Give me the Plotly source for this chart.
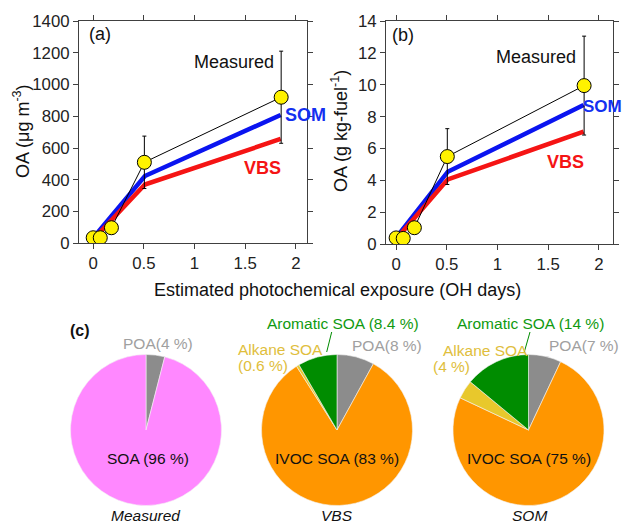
import plotly.graph_objects as go

W, H = 625, 525

# ---------------- data ----------------
meas_x = [0.0, 0.07, 0.18, 0.505, 1.855]
meas_a = [35, 35, 98, 510, 920]
meas_a_err = [0, 0, 0, 165, 290]
meas_b = [0.4, 0.37, 1.04, 5.5, 9.95]
meas_b_err = [0, 0, 0, 1.75, 3.1]

model_x = [0.01, 0.51, 1.85]
som_a = [42, 424, 808]
vbs_a = [30, 370, 657]
som_b = [0.5, 4.55, 8.73]
vbs_b = [0.4, 4.07, 7.06]

pie_meas_labels = ["POA", "SOA"]
pie_meas_vals = [4, 96]
pie_model_labels = ["POA", "IVOC SOA", "Alkane SOA", "Aromatic SOA"]
pie_vbs_vals = [8, 83, 0.6, 8.4]
pie_som_vals = [7, 75, 4, 14]

x_ticks = [0, 0.5, 1, 1.5, 2]
x_ticktext = ["0", "0.5", "1", "1.5", "2"]

# colours
C_POA = "#8C8C8C"
C_SOA = "#FF88FF"
C_IVOC = "#FF9600"
C_ALK = "#E8C82C"
C_ARO = "#008C00"
C_POA_TXT = "#A0A0A0"
C_ALK_TXT = "#E0BE3C"
C_ARO_TXT = "#109A10"

FONT = "Liberation Sans, Arial, sans-serif"


def px(x):
    return x / W


def py(y):
    return 1 - y / H


fig = go.Figure()

for xa, ya, meas, err, som, vbs in [
    ("x", "y", meas_a, meas_a_err, som_a, vbs_a),
    ("x2", "y2", meas_b, meas_b_err, som_b, vbs_b),
]:
    fig.add_trace(go.Scatter(
        x=model_x, y=som, mode="lines", xaxis=xa, yaxis=ya,
        line=dict(color="#0A14F0", width=4.5), showlegend=False, hoverinfo="skip"))
    fig.add_trace(go.Scatter(
        x=model_x, y=vbs, mode="lines", xaxis=xa, yaxis=ya,
        line=dict(color="#F51414", width=4.5), showlegend=False, hoverinfo="skip"))
    fig.add_trace(go.Scatter(
        x=meas_x, y=meas, mode="lines+markers", xaxis=xa, yaxis=ya,
        line=dict(color="black", width=1),
        marker=dict(size=14, color="#FFF200", line=dict(color="black", width=1)),
        error_y=dict(type="data", array=err, visible=True, color="black",
                     thickness=1, width=2),
        showlegend=False, hoverinfo="skip"))

axis_common = dict(
    showgrid=False, zeroline=False, showline=True, linecolor="#404040",
    linewidth=1, mirror="ticks", ticks="outside", ticklen=5, tickcolor="#404040",
    tickfont=dict(family=FONT, size=16.8, color="#222"), automargin=False,
)

fig.update_layout(
    xaxis=dict(domain=[px(79), px(307)], range=[-0.14, 2.11], anchor="y",
               tickvals=x_ticks, ticktext=x_ticktext, **axis_common),
    yaxis=dict(domain=[py(243.3), py(21)], range=[0, 1400], anchor="x",
               dtick=200, **axis_common),
    xaxis2=dict(domain=[px(386), px(613)], range=[-0.1, 2.14], anchor="y2",
                tickvals=x_ticks, ticktext=x_ticktext, **axis_common),
    yaxis2=dict(domain=[py(244.3), py(21)], range=[0, 14], anchor="x2",
                dtick=2, **axis_common),
)

# ---------------- pies ----------------
R = 75.5


def pie_domain(cx, cy):
    return dict(x=[px(cx - R), px(cx + R)], y=[py(cy + R), py(cy - R)])


pie_common = dict(sort=False, direction="clockwise", rotation=0,
                  textinfo="none", showlegend=False, hoverinfo="skip")
fig.add_trace(go.Pie(labels=pie_meas_labels, values=pie_meas_vals,
                     marker=dict(colors=[C_POA, C_SOA], line=dict(color="#F4F4F4", width=0.6)),
                     domain=pie_domain(146, 430), **pie_common))
fig.add_trace(go.Pie(labels=pie_model_labels, values=pie_vbs_vals,
                     marker=dict(colors=[C_POA, C_IVOC, C_ALK, C_ARO], line=dict(color="#F4F4F4", width=0.6)),
                     domain=pie_domain(337, 430), **pie_common))
fig.add_trace(go.Pie(labels=pie_model_labels, values=pie_som_vals,
                     marker=dict(colors=[C_POA, C_IVOC, C_ALK, C_ARO], line=dict(color="#F4F4F4", width=0.6)),
                     domain=pie_domain(528.5, 430), **pie_common))

# ---------------- text ----------------
ann = []


def T(text, x, y, size=18, color="#111", xanchor="center", bold=False, italic=False, angle=0):
    if bold:
        text = "<b>" + text + "</b>"
    if italic:
        text = "<i>" + text + "</i>"
    ann.append(dict(text=text, x=px(x), y=py(y), xref="paper", yref="paper",
                    xanchor=xanchor, yanchor="middle", showarrow=False,
                    textangle=angle,
                    font=dict(family=FONT, size=size, color=color)))


T("(a)", 87, 34, xanchor="left")
T("(b)", 390, 35, xanchor="left")
T("Measured", 276, 62, xanchor="right")
T("SOM", 283, 115, color="#1430F0", xanchor="left", bold=True)
T("VBS", 242, 168, color="#F51414", xanchor="left", bold=True)
T("Measured", 578, 57, xanchor="right")
T("SOM", 624, 107, size=17, color="#1430F0", xanchor="right", bold=True)
T("VBS", 545, 162, color="#F51414", xanchor="left", bold=True)
T("OA (μg m<sup>-3</sup>)", 22, 131, size=18, angle=-90)
T("OA (g kg-fuel<sup>-1</sup>)", 340, 131, size=18, angle=-90)
T("Estimated photochemical exposure (OH days)", 338, 290, size=18)

T("(c)", 68, 330, size=16, xanchor="left", bold=True)
T("POA(4 %)", 121, 343, size=15.5, color=C_POA_TXT, xanchor="left")
T("SOA (96 %)", 148, 458, size=15.5)
T("Measured", 146, 515, size=15.5, italic=True)

T("Aromatic SOA (8.4 %)", 343, 323, size=15.5, color=C_ARO_TXT)
T("Alkane SOA", 236, 349, size=15.5, color=C_ALK_TXT, xanchor="left")
T("(0.6 %)", 236, 365, size=15.5, color=C_ALK_TXT, xanchor="left")
T("POA(8 %)", 350, 346, size=15.5, color=C_POA_TXT, xanchor="left")
T("IVOC SOA (83 %)", 337, 458, size=15.5)
T("VBS", 337, 515, size=15.5, italic=True)

T("Aromatic SOA (14 %)", 530, 323, size=15.5, color=C_ARO_TXT)
T("Alkane SOA", 441, 350, size=15.5, color=C_ALK_TXT, xanchor="left")
T("(4 %)", 431, 366, size=15.5, color=C_ALK_TXT, xanchor="left")
T("POA(7 %)", 621, 346, size=15.5, color=C_POA_TXT, xanchor="right")
T("IVOC SOA (75 %)", 529, 458, size=15.5)
T("SOM", 529, 515, size=15.5, italic=True)

shapes = [
    dict(type="line", xref="paper", yref="paper", x0=px(331.7), y0=py(332),
         x1=px(326.7), y1=py(352), line=dict(color=C_ARO, width=1)),
    dict(type="line", xref="paper", yref="paper", x0=px(530), y0=py(332),
         x1=px(524), y1=py(353), line=dict(color=C_ARO, width=1)),
]

fig.update_layout(
    width=W, height=H, margin=dict(l=0, r=0, t=0, b=0),
    paper_bgcolor="white", plot_bgcolor="white",
    annotations=ann, shapes=shapes, showlegend=False,
    font=dict(family=FONT),
)

fig.write_html("out.html")
